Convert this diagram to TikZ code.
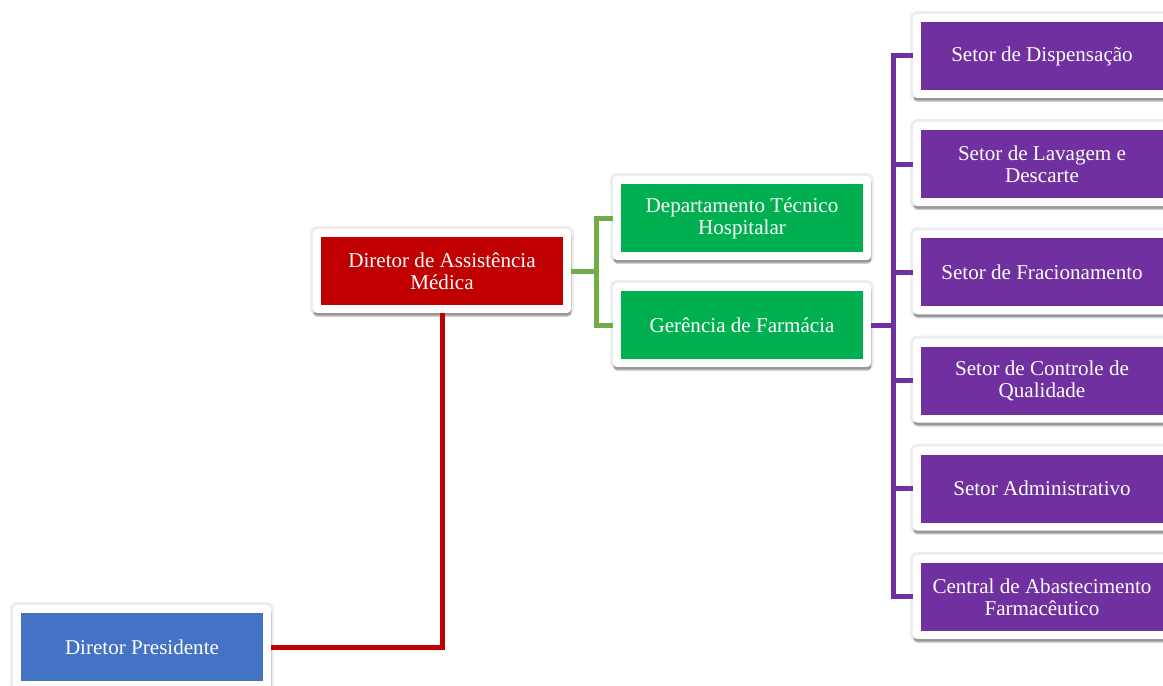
\documentclass[tikz,border=0pt]{standalone}
\usepackage{fontspec}
\setmainfont{Liberation Serif}
\usetikzlibrary{shadows,positioning}
\definecolor{azul}{HTML}{4472C4}
\definecolor{vermelho}{HTML}{C00000}
\definecolor{verde}{HTML}{00B050}
\definecolor{verdelinha}{HTML}{70AD47}
\definecolor{roxo}{HTML}{7030A0}
\def \fonte {\fontsize{12}{12.5}\selectfont\hyphenpenalty=10000\relax}
\tikzset{cargo/.style={rectangle,fill=white,rounded corners=0.08cm,
    minimum width=5.16cm,minimum height=1.68cm,text width=4.5cm,align=flush center,
    text=white,font=\fonte,
    drop shadow={shadow xshift=0.01cm,shadow yshift=-0.08cm,opacity=0.18,fill=black},
    drop shadow={shadow xshift=0.01cm,shadow yshift=-0.05cm,opacity=0.22,fill=black},
    preaction={draw=black,opacity=0.07,line width=0.12cm},
    path picture={\fill[#1,sharp corners]
      ([xshift=0.16cm,yshift=0.16cm]path picture bounding box.south west) rectangle
      ([xshift=-0.16cm,yshift=-0.16cm]path picture bounding box.north east);}}}
\tikzstyle{ligacao} = [-,line width=0.1cm]
\def \gap {0.47cm}

\begin{document}
\begin{tikzpicture}[x=0.02cm,y=-0.02cm]
  \clip (0,0) rectangle (1163,686);
  % cargos
  \node[cargo=azul] (dp) at (142,647) {Diretor Presidente};
  \node[cargo=vermelho] (dam) at (442,271) {Diretor de Assistência Médica};
  \node[cargo=verde] (dth) at (742,218) {Departamento Técnico Hospitalar};
  \node[cargo=verde] (gf) at (742,325) {Gerência de Farmácia};
  % setores
  \node[cargo=roxo] (s1) at (1042,56) {Setor de Dispensação};
  \node[cargo=roxo,below=\gap of s1] (s2) {Setor de Lavagem e Descarte};
  \node[cargo=roxo,below=\gap of s2] (s3) {Setor de Fracionamento};
  \node[cargo=roxo,below=\gap of s3] (s4) {Setor de Controle de Qualidade};
  \node[cargo=roxo,below=\gap of s4] (s5) {Setor Administrativo};
  \node[cargo=roxo,below=\gap of s5] (s6) {Central de Abastecimento Farmacêutico};
  % ligacoes
  \draw[ligacao,vermelho] (dp.east) -| (dam.south);
  \draw[ligacao,verdelinha] (dam.east) -- ++(25,0) coordinate (ramo1);
  \draw[ligacao,verdelinha] (ramo1) |- (dth.west);
  \draw[ligacao,verdelinha] (ramo1) |- (gf.west);
  \draw[ligacao,roxo] (gf.east) -- ++(22,0) coordinate (ramo2);
  \foreach \s in {s1,s2,s3,s4,s5,s6}
    \draw[ligacao,roxo] (ramo2) |- (\s.west);
\end{tikzpicture}
\end{document}
